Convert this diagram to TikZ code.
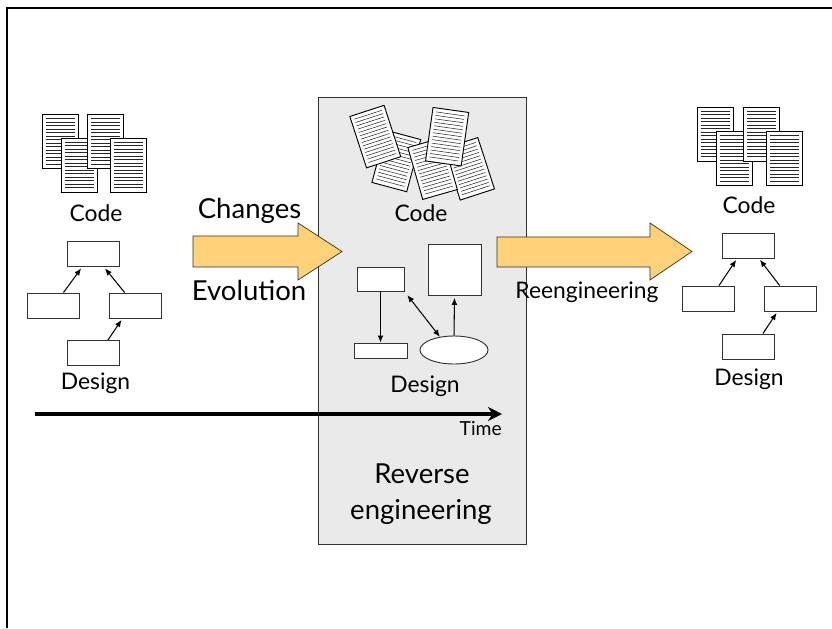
\documentclass[tikz,border=0pt]{standalone}
\usepackage{fontspec}
\setmainfont{Lato}
\usetikzlibrary{arrows.meta,shapes.geometric}
\definecolor{boxgray}{HTML}{EAEAEA}
\definecolor{arrowfill}{HTML}{FFD27A}
\definecolor{arrowline}{HTML}{3A3020}
% one sheet of code listing: centre x, centre y, rotation
\newcommand{\docpage}[3]{%
  \begin{scope}[shift={(#1,#2)},rotate=#3]
  \filldraw [fill=white,draw=black,line width=0.8pt] (-1.8,-2.7) rectangle (1.8,2.7);
  \foreach \k in {0,...,13}
    \draw [black!85,line width=0.45pt] (-1.45,2.3-0.35*\k) -- (1.45,2.3-0.35*\k);
  \end{scope}}
\begin{document}
\begin{tikzpicture}[scale=0.3]
\tikzstyle{every node}+=[inner sep=0pt]
\tikzstyle{dbox}=[draw=black!80,fill=white,line width=0.8pt,minimum width=1.56cm,minimum height=0.75cm]
\tikzstyle{sarrow}=[line width=0.9pt,-{Latex[length=6pt,width=5pt]}]
\tikzstyle{darrow}=[line width=0.9pt,{Latex[length=6pt,width=5pt]}-{Latex[length=6pt,width=5pt]}]
\tikzstyle{biglabel}=[anchor=base,font=\fontsize{23.5}{28}\selectfont]
\tikzstyle{medlabel}=[anchor=base,font=\fontsize{19.5}{23}\selectfont]
\tikzstyle{blockarrow}=[fill=arrowfill,draw=arrowline,line width=0.6pt,line join=miter]
\useasboundingbox (0,0) rectangle (83.2,-62.8);
\draw [black,line width=0.9pt] (0.7,-62.8) -- (0.7,-0.8) -- (83.2,-0.8);
% reverse engineering panel
\filldraw [fill=boxgray,draw=black!80,line width=0.7pt] (31.8,-9.7) rectangle (52.6,-54.4);
% code, before
\docpage{6.0}{-14.15}{0}
\docpage{7.9}{-16.5}{0}
\docpage{10.55}{-14.15}{0}
\docpage{12.85}{-16.5}{0}
% code, recovered
\docpage{39.63}{-16.1}{-15}
\docpage{37.53}{-13.66}{18}
\docpage{46.9}{-16.88}{18}
\docpage{43.26}{-16.85}{16}
\docpage{44.71}{-13.67}{-8}
% code, after
\docpage{71.5}{-13.4}{0}
\docpage{73.4}{-15.85}{0}
\docpage{76.15}{-13.4}{0}
\docpage{78.4}{-15.85}{0}
\node [medlabel] (code1) at (9.6,-22.1) {Code};
\node [medlabel] (code2) at (42.1,-22.1) {Code};
\node [medlabel] (code3) at (74.9,-21.3) {Code};
% design, before
\node [dbox] (ltop) at (9.3,-25.4) {};
\node [dbox] (lleft) at (5.3,-30.55) {};
\node [dbox] (lright) at (13.55,-30.55) {};
\node [dbox] (lbot) at (9.3,-35.3) {};
\draw [sarrow,shorten >=1.5pt] (lleft.51) -- (ltop.-130);
\draw [sarrow,shorten >=1.5pt] (lright.130) -- (ltop.-50);
\draw [sarrow,shorten >=1.5pt] (lbot.41) -- (lright.-135);
\node [medlabel] (design1) at (9.55,-38.9) {Design};
% design, recovered
\node [dbox,minimum width=1.41cm,minimum height=0.72cm] (mbox) at (38.05,-27.9) {};
\node [dbox,minimum width=1.59cm,minimum height=0.45cm] (msmall) at (38.05,-35.05) {};
\node [dbox,minimum width=1.59cm,minimum height=1.53cm] (msquare) at (45.45,-26.95) {};
\node [dbox,ellipse,minimum width=2.04cm,minimum height=0.84cm] (mell) at (45.4,-35.0) {};
\draw [sarrow] (mbox.south) -- (msmall.north);
\draw [darrow,shorten <=4pt] (mbox.south east) -- (mell.137);
\draw [sarrow,shorten >=2pt] (mell.north) -- (msquare.south);
\node [medlabel] (design2) at (42.5,-39.2) {Design};
% design, after
\node [dbox] (rtop) at (74.8,-24.55) {};
\node [dbox] (rleft) at (70.85,-29.85) {};
\node [dbox] (rright) at (79.05,-29.85) {};
\node [dbox] (rbot) at (74.8,-34.65) {};
\draw [sarrow,shorten >=1.5pt] (rleft.51) -- (rtop.-130);
\draw [sarrow,shorten >=1.5pt] (rright.130) -- (rtop.-50);
\draw [sarrow,shorten >=1.5pt] (rbot.41) -- (rright.-135);
\node [medlabel] (design3) at (74.9,-38.5) {Design};
% block arrows
\filldraw [blockarrow] (19.3,-23.6) -- (29.8,-23.6) -- (29.8,-22.3) -- (34.2,-25.15)
  -- (29.8,-28.0) -- (29.8,-26.7) -- (19.3,-26.7) -- cycle;
\filldraw [blockarrow] (49.7,-23.7) -- (65.0,-23.7) -- (65.0,-22.3) -- (69.2,-25.15)
  -- (65.0,-28.0) -- (65.0,-26.7) -- (49.7,-26.7) -- cycle;
\node [biglabel] (changes) at (24.95,-21.8) {Changes};
\node [biglabel] (evolution) at (24.9,-30.0) {Evolution};
\node [medlabel] (reeng) at (58.7,-29.8) {Reengineering};
% time line
\coordinate (t0) at (3.5,-41.4);
\coordinate (t1) at (50.2,-41.4);
\draw [line width=2.8pt,-{Stealth[length=12pt,width=12pt]}] (t0) -- (t1);
\node [anchor=base east,font=\fontsize{16.5}{19}\selectfont] (time) at (50.2,-43.5) {Time};
\node [biglabel] (reverse) at (42.2,-48.3) {Reverse};
\node [biglabel] (engineering) at (42.1,-51.9) {engineering};
\end{tikzpicture}
\end{document}
